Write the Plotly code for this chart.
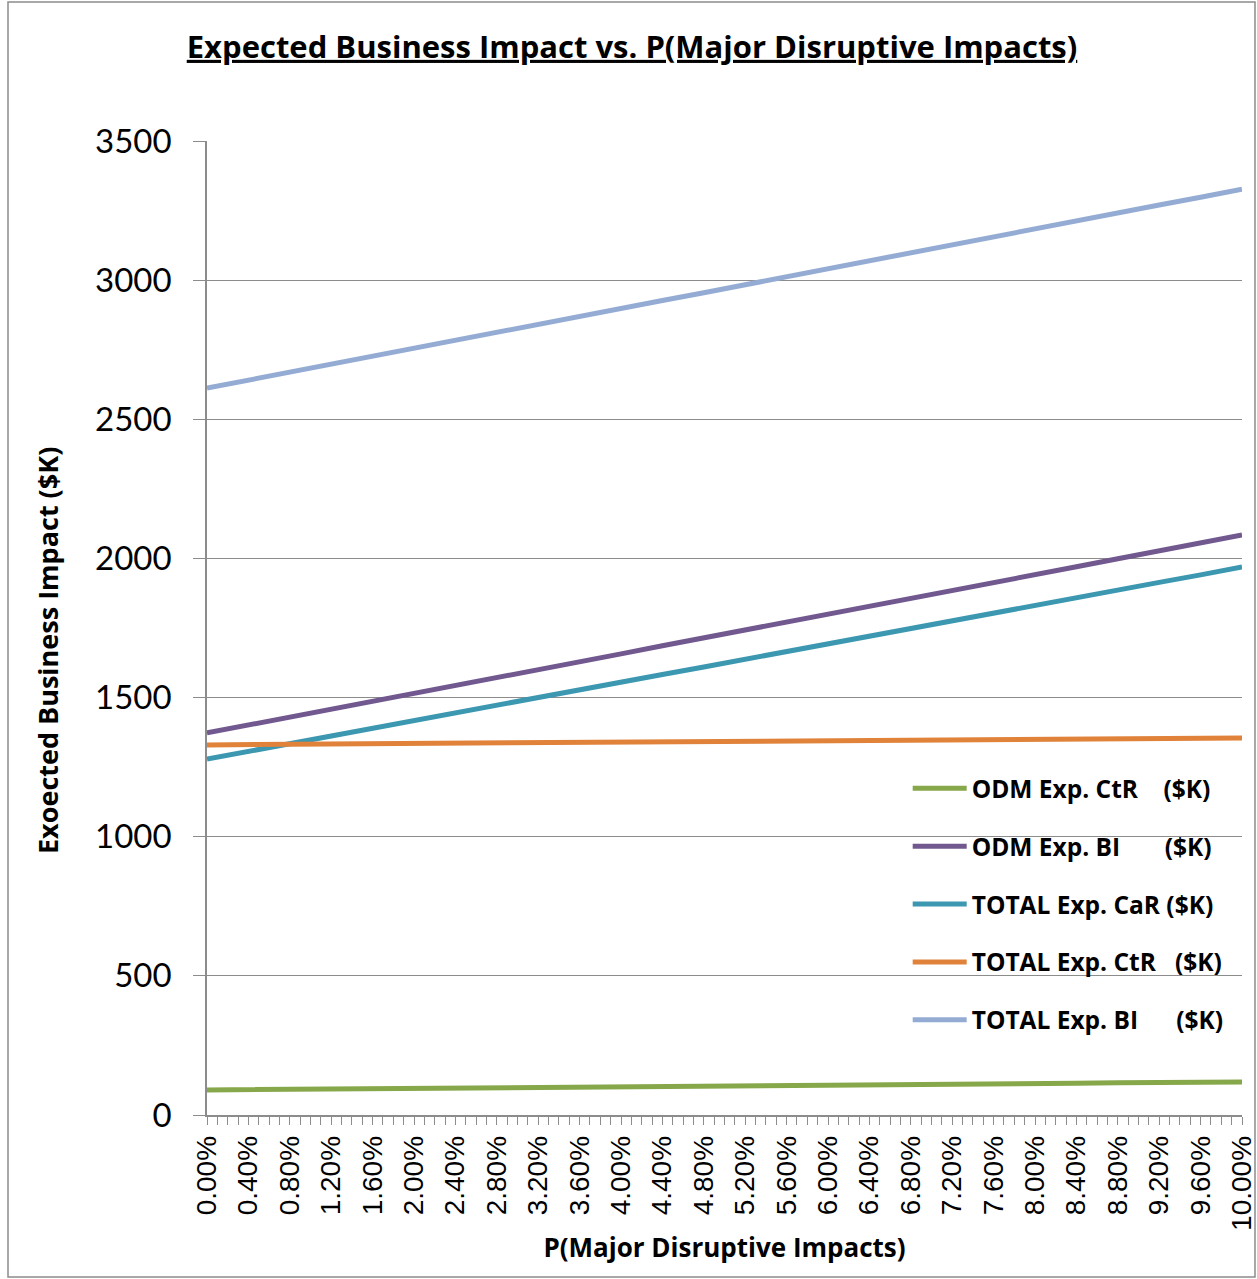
import plotly.graph_objects as go

# P(Major Disruptive Impacts), in percent, sampled every 0.4 %
p_major = [round(0.4 * i, 1) for i in range(26)]

odm_exp_ctr = [90, 91, 92, 93, 95, 96, 97, 98, 99, 100, 102, 103, 104,
               105, 106, 107, 109, 110, 111, 112, 113, 114, 116, 117, 118, 119]
odm_exp_bi = [1373, 1401, 1430, 1458, 1487, 1515, 1544, 1572, 1601, 1629,
              1657, 1686, 1714, 1743, 1771, 1800, 1828, 1857, 1885, 1914,
              1942, 1970, 1999, 2027, 2056, 2084]
total_exp_car = [1279, 1307, 1334, 1362, 1389, 1417, 1445, 1472, 1500, 1527,
                 1555, 1583, 1610, 1638, 1665, 1693, 1721, 1748, 1776, 1803,
                 1831, 1859, 1886, 1914, 1941, 1969]
total_exp_ctr = [1330, 1331, 1332, 1333, 1334, 1335, 1336, 1337, 1338, 1339,
                 1340, 1341, 1342, 1343, 1344, 1345, 1346, 1347, 1348, 1349,
                 1350, 1351, 1352, 1353, 1354, 1355]
total_exp_bi = [2612, 2641, 2669, 2698, 2726, 2755, 2784, 2812, 2841, 2869,
                2898, 2927, 2955, 2984, 3012, 3041, 3070, 3098, 3127, 3155,
                3184, 3213, 3241, 3270, 3298, 3327]

NB = "\u00a0"
series_names = [
    "ODM Exp. CtR" + NB * 4 + "($K)",
    "ODM Exp. BI" + NB * 7 + "($K)",
    "TOTAL Exp. CaR ($K)",
    "TOTAL Exp. CtR" + NB * 3 + "($K)",
    "TOTAL Exp. BI" + NB * 6 + "($K)",
]
series_values = [odm_exp_ctr, odm_exp_bi, total_exp_car, total_exp_ctr, total_exp_bi]
series_colors = ["#86A84A", "#71588F", "#3C97B0", "#E0823A", "#94ACD4"]

tick_vals = [round(0.4 * i, 1) for i in range(26)]
tick_text = [f"{v:.2f}%" for v in tick_vals]

fig = go.Figure()
for i, (name, vals, col) in enumerate(zip(series_names, series_values, series_colors)):
    fig.add_trace(go.Scatter(
        x=p_major, y=vals, mode="lines", name=name,
        legendgroup=f"g{i}",
        line=dict(color=col, width=5),
    ))

grid_gray = "#8C8C8C"
BOLD = "Open Sans"
fig.update_layout(
    width=1257, height=1279,
    margin=dict(l=207, r=15, t=141, b=164, autoexpand=False),
    paper_bgcolor="white", plot_bgcolor="white",
    showlegend=True,
    title=dict(
        text="<u><b>Expected Business Impact vs. P(Major Disruptive Impacts)</b></u>",
        x=632 / 1257, xref="container", xanchor="center",
        y=1 - 47 / 1279, yanchor="middle",
        font=dict(family=BOLD, size=31, color="black"),
    ),
    legend=dict(
        x=0.677, y=0.3584, xanchor="left", yanchor="top",
        bgcolor="rgba(0,0,0,0)", borderwidth=0,
        font=dict(family=BOLD, size=24.5, color="black", weight="bold"),
        tracegroupgap=23, itemwidth=54,
        traceorder="grouped",
    ),
    xaxis=dict(
        range=[0, 10], showgrid=False, zeroline=False,
        showline=True, linecolor=grid_gray, linewidth=1.5,
        tickmode="array", tickvals=tick_vals, ticktext=tick_text,
        ticks="outside", ticklen=8, tickcolor=grid_gray, tickwidth=1,
        tickangle=-90, ticklabeloverflow="allow",
        tickfont=dict(family="Liberation Sans", size=28, color="black"),
        minor=dict(dtick=0.1, tick0=0, ticks="outside", ticklen=8,
                   tickcolor=grid_gray, tickwidth=1, showgrid=False),
        title=dict(text="<b>P(Major Disruptive Impacts)</b>",
                   font=dict(family=BOLD, size=26, color="black"),
                   standoff=9),
    ),
    yaxis=dict(
        range=[0, 3500], dtick=500, zeroline=False,
        showgrid=True, gridcolor=grid_gray, gridwidth=1,
        showline=True, linecolor=grid_gray, linewidth=1.5,
        ticks="outside", ticklen=12, tickcolor=grid_gray,
        ticklabelstandoff=15,
        tickfont=dict(family="Lato", size=33, color="black"),
    ),
)

# y-axis title, set slightly below the middle of the plot area
fig.add_annotation(
    text="<b>Exoected Business Impact ($K)</b>",
    xref="paper", yref="paper",
    x=(47 - 207) / 1035, y=(1115 - 651) / 974,
    xanchor="center", yanchor="middle", textangle=-90, showarrow=False,
    font=dict(family=BOLD, size=27, color="black"),
)

# white backing behind the legend, hiding the gridlines there
fig.add_shape(type="rect", xref="paper", yref="paper",
              x0=(888 - 207) / 1035, x1=1.0,
              y0=(1115 - 1045) / 974, y1=(1115 - 762) / 974,
              fillcolor="white", line=dict(width=0), layer="between")

# outer chart frame
fig.add_shape(type="rect", xref="paper", yref="paper",
              x0=(8 - 207) / 1035, x1=(1255 - 207) / 1035,
              y0=(1115 - 1277) / 974, y1=(1115 - 2) / 974,
              line=dict(color="#8C8C8C", width=1.5), layer="below")

fig.write_html("out.html")
